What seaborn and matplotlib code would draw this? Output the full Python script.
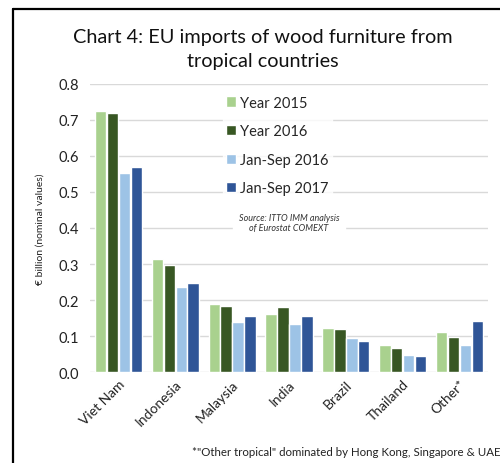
import numpy as np
import pandas as pd
import matplotlib
matplotlib.use("Agg")
import matplotlib.pyplot as plt
from matplotlib.lines import Line2D
import seaborn as sns

countries = ['Viet Nam', 'Indonesia', 'Malaysia', 'India', 'Brazil', 'Thailand', 'Other*']
series = ['Year 2015', 'Year 2016', 'Jan-Sep 2016', 'Jan-Sep 2017']
year_2015 = [0.725, 0.315, 0.190, 0.161, 0.122, 0.076, 0.112]
year_2016 = [0.719, 0.298, 0.183, 0.180, 0.120, 0.066, 0.098]
jan_sep_2016 = [0.554, 0.236, 0.140, 0.133, 0.094, 0.047, 0.076]
jan_sep_2017 = [0.568, 0.248, 0.155, 0.155, 0.087, 0.044, 0.141]
colors = ['#A9D18E', '#385723', '#9DC3E6', '#2F5597']

rows = []
for s, vals in zip(series, [year_2015, year_2016, jan_sep_2016, jan_sep_2017]):
    for c, v in zip(countries, vals):
        rows.append({'country': c, 'series': s, 'value': v})
df = pd.DataFrame(rows)

sns.set_style('white')
plt.rcParams['font.family'] = ['Lato', 'DejaVu Sans']

fig = plt.figure(figsize=(5, 4.64), dpi=100)
ax = fig.add_axes([0.18, 0.196, 0.796, 0.621])

sns.barplot(data=df, x='country', y='value', hue='series', palette=colors,
            width=0.84, gap=0.04, saturation=1, ax=ax, zorder=3)

ax.set_ylim(0, 0.8)
ax.set_yticks(np.arange(0, 0.81, 0.1))
ax.set_yticklabels([f'{t:.1f}' for t in np.arange(0, 0.81, 0.1)], fontsize=10.5, color='#222222')
ax.yaxis.grid(True, color='#D9D9D9', linewidth=1, zorder=0)
ax.set_axisbelow(True)
for sp in ax.spines.values():
    sp.set_visible(False)
ax.tick_params(axis='both', length=0, pad=8)
ax.set_xlabel('')
ax.set_ylabel('€ billion (nominal values)', fontsize=7.5, color='#222222', labelpad=10)
plt.setp(ax.get_xticklabels(), rotation=45, ha='right', rotation_mode='anchor', fontsize=10, color='#222222')
ax.tick_params(axis='x', pad=4)

leg = ax.legend(loc='upper left', bbox_to_anchor=(0.315, 0.995), frameon=True, fontsize=10.5,
                handlelength=0.7, handleheight=0.7, handletextpad=0.3, labelspacing=1.0,
                borderpad=0.2, fancybox=False)
leg.get_frame().set_facecolor('white')
leg.get_frame().set_edgecolor('white')

ax.text(0.5, 0.52, 'Source: ITTO IMM analysis\nof Eurostat COMEXT', transform=ax.transAxes,
        ha='center', va='center', fontsize=6.5, style='italic', color='#333333',
        backgroundcolor='white', zorder=5)

fig.text(0.525, 1 - 37 / 464, 'Chart 4: EU imports of wood furniture from', ha='center', va='center',
         fontsize=14.3, color='#111111')
fig.text(0.525, 1 - 62 / 464, 'tropical countries', ha='center', va='center',
         fontsize=14.3, color='#111111')
fig.text(192 / 500, 1 - 453 / 464, '*"Other tropical" dominated by Hong Kong, Singapore & UAE',
         ha='left', va='center', fontsize=8.3, color='#222222')

fig.add_artist(Line2D([13 / 500, 13 / 500], [0, 1 - 10 / 464], color='black', linewidth=1.6,
                      transform=fig.transFigure))
fig.add_artist(Line2D([13 / 500, 1], [1 - 10 / 464, 1 - 10 / 464], color='black', linewidth=1.6,
                      transform=fig.transFigure))

fig.savefig('out.png', dpi=100)
